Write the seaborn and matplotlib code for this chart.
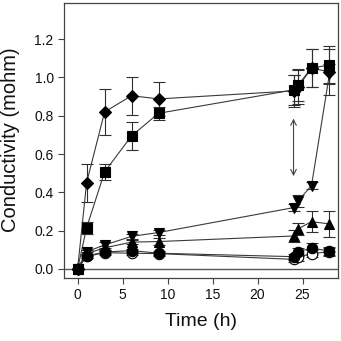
import numpy as np
import pandas as pd
import matplotlib
matplotlib.use("Agg")
import matplotlib.pyplot as plt
import seaborn as sns

# sampling times (h)
time_h = [0, 1, 3, 6, 9, 24, 24.5, 26, 28]

# mean conductivity (mohm) per series
diamond = [0.0, 0.45, 0.82, 0.905, 0.888, 0.93, 0.95, 1.048, 1.03]
square = [0.0, 0.215, 0.507, 0.695, 0.813, 0.935, 0.96, 1.05, 1.065]
tri_down = [0.0, 0.09, 0.125, 0.17, 0.19, 0.32, 0.355, 0.435, 1.02]
tri_up = [0.0, 0.08, 0.11, 0.14, 0.143, 0.172, 0.209, 0.247, 0.235]
circle = [0.0, 0.068, 0.088, 0.096, 0.082, 0.064, 0.09, 0.108, 0.094]
circle_open = [0.0, 0.065, 0.085, 0.082, 0.08, 0.05, 0.06, 0.08, 0.09]

# error bar half-lengths
diamond_err = [0.0, 0.1, 0.12, 0.1, 0.09, 0.085, 0.09, 0.1, 0.12]
square_err = [0.0, 0.03, 0.04, 0.075, 0.035, 0.08, 0.085, 0.1, 0.1]
tri_down_err = [0.0, 0.01, 0.015, 0.015, 0.015, 0.02, 0.03, 0.02, 0.05]
tri_up_err = [0.0, 0.01, 0.01, 0.01, 0.02, 0.03, 0.03, 0.055, 0.07]
circle_err = [0.0, 0.01, 0.01, 0.01, 0.01, 0.015, 0.02, 0.03, 0.02]
circle_open_err = [0.0, 0.01, 0.01, 0.01, 0.01, 0.015, 0.02, 0.02, 0.02]

series = [
    ("diamond", diamond, diamond_err, "D", "black"),
    ("square", square, square_err, "s", "black"),
    ("tri_down", tri_down, tri_down_err, "v", "black"),
    ("tri_up", tri_up, tri_up_err, "^", "black"),
    ("circle_open", circle_open, circle_open_err, "o", "white"),
    ("circle", circle, circle_err, "o", "black"),
]

sns.set_style("ticks")
plt.rcParams["font.family"] = ["Liberation Sans", "DejaVu Sans"]

fig = plt.figure(figsize=(3.41, 3.41), dpi=100)
ax = fig.add_axes([0.188, 0.185, 0.802, 0.805])

line_col = "#3a3a3a"
for name, vals, errs, mk, face in series:
    df = pd.DataFrame({"time": time_h, "cond": vals})
    ax.errorbar(df["time"], df["cond"], yerr=errs, fmt="none",
                ecolor="#303030", elinewidth=0.8, capsize=4, capthick=0.8, zorder=2)
    ms = 6.5 if mk == "D" else 7.5
    sns.lineplot(data=df, x="time", y="cond", ax=ax, color=line_col, lw=0.8,
                 marker=mk, markersize=ms, markerfacecolor=face,
                 markeredgecolor="black", markeredgewidth=0.8, zorder=3)

ax.axhline(0, color="#555555", lw=1, zorder=1)

# arrow marking the change between the 24 h readings
ax.annotate("", xy=(24, 0.47), xytext=(24, 0.80),
            arrowprops=dict(arrowstyle="<->", color="#444444", lw=0.8))

ax.set_xlim(-1.5, 28.9)
ax.set_ylim(-0.047, 1.387)
ax.set_xticks([0, 5, 10, 15, 20, 25])
ax.set_yticks([0.0, 0.2, 0.4, 0.6, 0.8, 1.0, 1.2])
ax.set_yticklabels([f"{v:.1f}" for v in [0.0, 0.2, 0.4, 0.6, 0.8, 1.0, 1.2]])
ax.tick_params(direction="out", length=4, width=0.8, colors="#444444",
               labelsize=10, labelcolor="#111111")
for sp in ax.spines.values():
    sp.set_visible(True)
    sp.set_color("#444444")
    sp.set_linewidth(0.9)

ax.set_xlabel("Time (h)", fontsize=14, color="#111111", labelpad=8)
ax.set_ylabel("Conductivity (mohm)", fontsize=14.5, color="#111111")
ax.yaxis.set_label_coords(-0.16, 0.505)

fig.savefig("out.png", dpi=100)
